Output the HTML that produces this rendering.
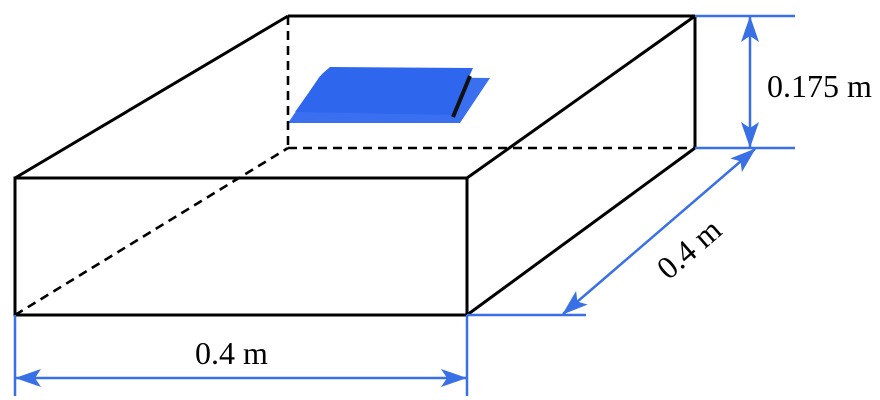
<!DOCTYPE html>
<html><head><style>body{margin:0;background:#fff}svg{display:block}</style></head><body>
<svg width="880" height="400" viewBox="0 0 880 400" xmlns="http://www.w3.org/2000/svg">
<defs>
<marker id="a" viewBox="0 0 26 18" refX="25" refY="9" markerWidth="26" markerHeight="18" markerUnits="userSpaceOnUse" orient="auto-start-reverse">
<path d="M0,0 L26,9 L0,18 L6,9 Z" fill="#3a70e6"/></marker>
</defs>
<polygon points="288,123 460,123 490,78 320,76" fill="#3a6ff0"/>
<polygon points="295,112 452,115 473,68 330,67 322,74" fill="#2e66ee"/>
<line x1="453" y1="117" x2="470" y2="76" stroke="#111" stroke-width="4"/>
<g stroke="#000" stroke-width="3" fill="none">
<rect x="15" y="178" width="452" height="137"/>
<line x1="15" y1="178" x2="288" y2="16"/>
<line x1="288" y1="16" x2="695" y2="16"/>
<line x1="695" y1="16" x2="695" y2="148"/>
<line x1="467" y1="178" x2="695" y2="16"/>
<line x1="467" y1="315" x2="695" y2="148"/>
<g stroke-dasharray="9,6" stroke-width="2.6">
<line x1="288" y1="16" x2="288" y2="148"/>
<line x1="288" y1="148" x2="695" y2="148"/>
<line x1="15" y1="315" x2="288" y2="148"/>
</g>
</g>
<g stroke="#3a70e6" stroke-width="2.5" fill="none">
<line x1="695" y1="16" x2="795" y2="16"/>
<line x1="695" y1="148" x2="795" y2="148"/>
<line x1="750" y1="17" x2="750" y2="147" marker-start="url(#a)" marker-end="url(#a)"/>
<line x1="15" y1="315" x2="15" y2="396"/>
<line x1="467" y1="315" x2="467" y2="396"/>
<line x1="16" y1="378" x2="466" y2="378" marker-start="url(#a)" marker-end="url(#a)"/>
<line x1="467" y1="315" x2="586" y2="315"/>
<line x1="563" y1="314" x2="755" y2="149" marker-start="url(#a)" marker-end="url(#a)"/>
</g>
<g font-family="Liberation Serif, serif" font-size="32" fill="#000">
<text x="767" y="97">0.175 m</text>
<text x="195" y="364">0.4 m</text>
<text x="0" y="0" text-anchor="middle" transform="translate(696,257) rotate(-41)">0.4 m</text>
</g>
</svg>
</body></html>
